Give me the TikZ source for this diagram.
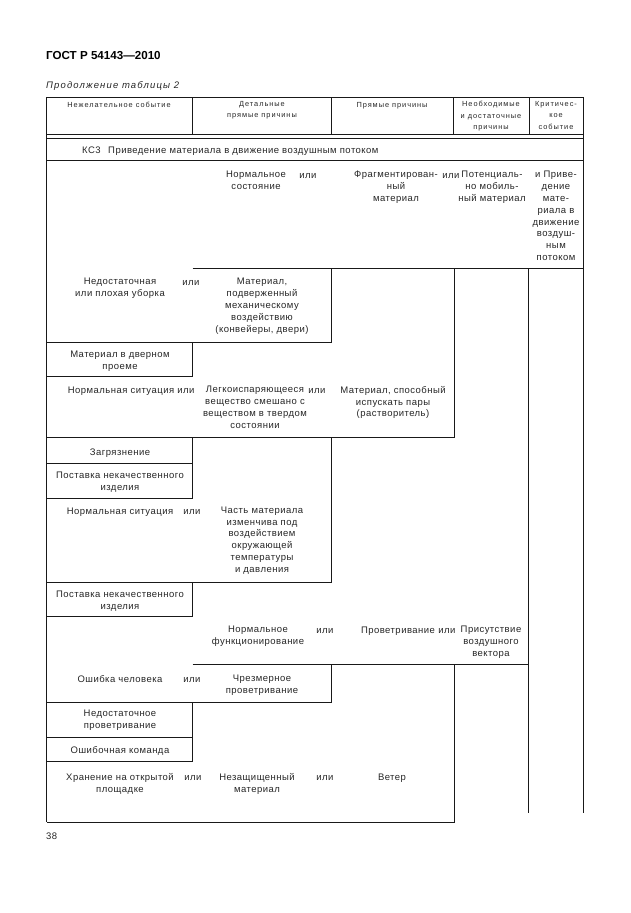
\documentclass[tikz,border=0pt]{standalone}
\usepackage{fontspec}
\setmainfont{Liberation Sans}
\newfontfamily\bodyfont[LetterSpace=5]{Liberation Sans}
\newfontfamily\headfont[LetterSpace=13]{Liberation Sans}
\newfontfamily\captfont[LetterSpace=12]{Liberation Sans}

\begin{document}
\begin{tikzpicture}[x=0.3333mm,y=-0.3333mm,
  cell/.style={font=\fontsize{9}{11.2}\bodyfont, text=black!85, align=center, inner sep=0pt,
    anchor=north, yshift=5.6pt, execute at begin node={\rule{0pt}{7pt}}},
  hcell/.style={font=\fontsize{7}{10.8}\headfont, text=black!85, align=center, inner sep=0pt,
    anchor=north, yshift=4.6pt, execute at begin node={\rule{0pt}{5.5pt}}},
  rule/.style={line width=0.9pt, black!90}]
\useasboundingbox (0,0) rectangle (630,913);

  % page head
  \node[anchor=base west, inner sep=0pt, font=\fontsize{11}{12}\selectfont\bfseries] (gost) at (46,59) {ГОСТ Р 54143—2010};
  \node[anchor=base west, inner sep=0pt, text=black!85, font=\fontsize{9}{11}\captfont\itshape] (cont) at (46,88) {Продолжение таблицы 2};

  % table head
  \node[hcell] (hEvent) at (119,106) {Нежелательное событие};
  \node[hcell] (hDetail) at (262,106) {Детальные\\прямые причины};
  \node[hcell] (hDirect) at (392,106) {Прямые причины};
  \node[hcell] (hNeed) at (491,106) {Необходимые\\и достаточные\\причины};
  \node[hcell] (hCrit) at (556,106) {Критичес-\\кое\\событие};

  \node[cell, anchor=north west] (ks) at (82,152) {КС3\hspace{2.5mm}Приведение материала в движение воздушным потоком};

  % Potentially mobile material
  \node[cell] (NormSost) at (256,177) {Нормальное\\состояние};
  \node[cell] (or1) at (308,177) {или};
  \node[cell] (Frag) at (396,177) {Фрагментирован-\\ный\\материал};
  \node[cell] (or2) at (451,177) {или};
  \node[cell] (PotMob) at (492,177) {Потенциаль-\\но мобиль-\\ный материал};
  \node[cell] (Crit) at (556,177) {и Приве-\\дение\\мате-\\риала в\\движение\\воздуш-\\ным\\потоком};

  \node[cell] (Uborka) at (120,284) {Недостаточная\\или плохая уборка};
  \node[cell] (or3) at (191,284) {или};
  \node[cell] (Mech) at (262,284) {Материал,\\подверженный\\механическому\\воздействию\\(конвейеры, двери)};
  \node[cell] (Dver) at (120,357) {Материал в дверном\\проеме};

  % Vapours
  \node[cell] (NormSit1) at (121,392) {Нормальная ситуация};
  \node[cell] (or4) at (186,392) {или};
  \node[cell] (Legk) at (255,392) {Легкоиспаряющееся\\вещество смешано с\\веществом в твердом\\состоянии};
  \node[cell] (or5) at (317,392) {или};
  \node[cell] (Pary) at (393,392) {Материал, способный\\испускать пары\\(растворитель)};
  \node[cell] (Zagr) at (120,454) {Загрязнение};
  \node[cell] (Post1) at (120,478) {Поставка некачественного\\изделия};

  \node[cell] (NormSit2) at (120,512.5) {Нормальная ситуация};
  \node[cell] (or6) at (192,512.5) {или};
  \node[cell] (Chast) at (262,512.5) {Часть материала\\изменчива под\\воздействием\\окружающей\\температуры\\и давления};
  \node[cell] (Post2) at (120,597) {Поставка некачественного\\изделия};

  % Air vector
  \node[cell] (NormFunc) at (258,632) {Нормальное\\функционирование};
  \node[cell] (or7) at (325,632) {или};
  \node[cell] (Provet) at (398,632) {Проветривание};
  \node[cell] (or8) at (447,632) {или};
  \node[cell] (Vektor) at (491,632) {Присутствие\\воздушного\\вектора};

  \node[cell] (Chel) at (120,681) {Ошибка человека};
  \node[cell] (or9) at (192,681) {или};
  \node[cell] (Chrez) at (262,681) {Чрезмерное\\проветривание};
  \node[cell] (NedProv) at (120,716) {Недостаточное\\проветривание};
  \node[cell] (Komanda) at (120,752) {Ошибочная команда};

  \node[cell] (Hran) at (120,779) {Хранение на открытой\\площадке};
  \node[cell] (or10) at (193,779) {или};
  \node[cell] (Nezasch) at (257,779) {Незащищенный\\материал};
  \node[cell] (or11) at (325,779) {или};
  \node[cell] (Veter) at (392,779) {Ветер};

  \node[cell, anchor=north west] (page) at (46,838) {38};

  % frame and head rules
  \draw[rule] (46.5,822) -- (46.5,97.5) -- (583,97.5) -- (583,813);
  \foreach \xc in {192.5,331,453.5,529}
    \draw[rule] (\xc,97.5) -- (\xc,134);
  \draw[rule] (46.5,134) -- (583,134);
  \draw[rule] (46.5,138.5) -- (583,138.5);
  \draw[rule] (46.5,160.5) -- (583,160.5);

  % body rules
  \draw[rule] (192.5,268) -- (583,268);
  \draw[rule] (331,268) -- (331,342) -- (46.5,342);
  \draw[rule] (454,268) -- (454,437) -- (46.5,437);
  \draw[rule] (528.5,268) -- (528.5,813);
  \draw[rule] (192.5,342) -- (192.5,376) -- (46.5,376);
  \draw[rule] (192.5,437) -- (192.5,498) -- (46.5,498);
  \draw[rule] (46.5,463) -- (192.5,463);
  \draw[rule] (331,437) -- (331,582) -- (46.5,582);
  \draw[rule] (192.5,582) -- (192.5,616) -- (46.5,616);
  \draw[rule] (192.5,664) -- (528.5,664);
  \draw[rule] (331,664) -- (331,702) -- (46.5,702);
  \draw[rule] (192.5,702) -- (192.5,761) -- (46.5,761);
  \draw[rule] (46.5,737) -- (192.5,737);
  \draw[rule] (454,664) -- (454,822) -- (46.5,822);
\end{tikzpicture}
\end{document}
